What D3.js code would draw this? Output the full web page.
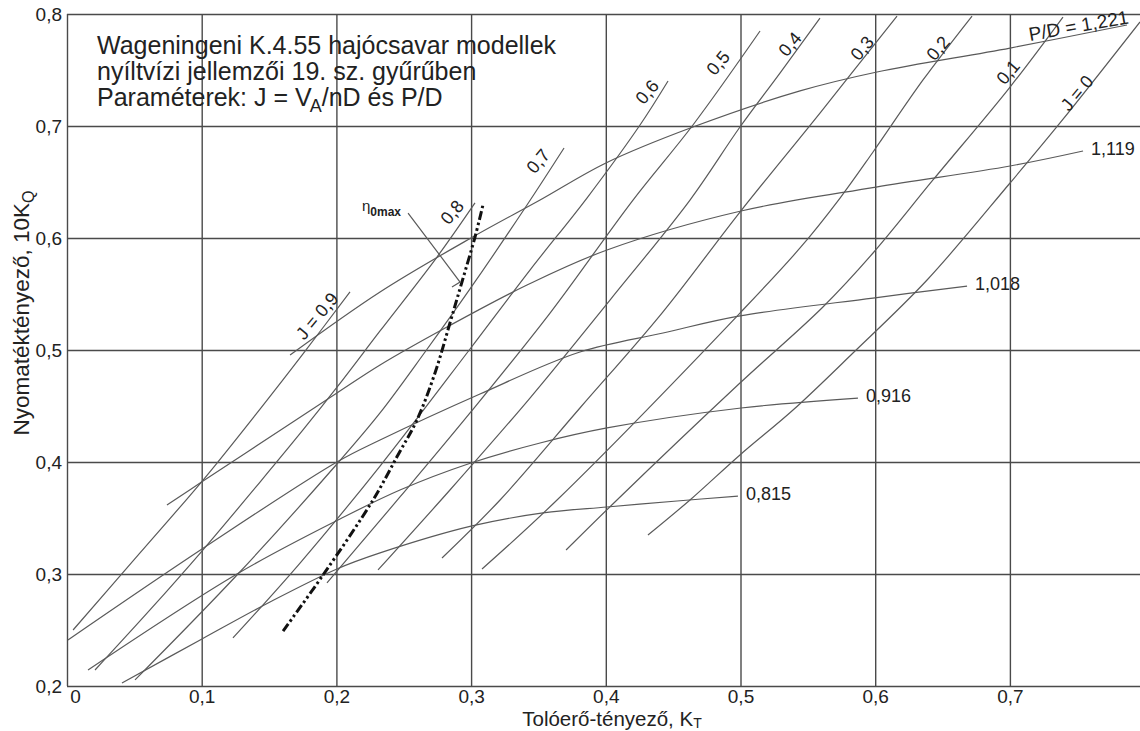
<!DOCTYPE html>
<html>
<head>
<meta charset="utf-8">
<script src="https://cdn.jsdelivr.net/npm/d3@7"></script>
<style>
  body { margin: 0; background: #fff; }
  text { font-family: "Liberation Sans", Arial, sans-serif; fill: #222; }
</style>
</head>
<body>
<svg id="chart" width="1140" height="731"></svg>
<script>
const xTicks = [0, 0.1, 0.2, 0.3, 0.4, 0.5, 0.6, 0.7];
const yTicks = [0.2, 0.3, 0.4, 0.5, 0.6, 0.7, 0.8];

// P/D curves: [KT, 10KQ]
const pd1221 = [[0.1656, 0.4955], [0.2324, 0.5518], [0.2999, 0.6], [0.3512, 0.6339], [0.4001, 0.667],
  [0.4647, 0.6991], [0.5442, 0.7313], [0.6013, 0.7482], [0.7001, 0.7696], [0.7869, 0.7902]];
const pd1119 = [[0.0742, 0.3616], [0.101, 0.383], [0.1507, 0.4223], [0.2004, 0.4616], [0.2324, 0.4866],
  [0.2821, 0.5205], [0.3415, 0.558], [0.4009, 0.5893], [0.5004, 0.6241], [0.6006, 0.6455],
  [0.7001, 0.6643], [0.7543, 0.6777]];
const pd1018 = [[0.0007, 0.2411], [0.1002, 0.3223], [0.2004, 0.4], [0.2324, 0.4196], [0.3066, 0.4607],
  [0.3808, 0.4982], [0.4425, 0.5152], [0.4996, 0.5304], [0.5984, 0.5464], [0.6682, 0.5571]];
const pd0916 = [[0.0156, 0.2143], [0.1262, 0.3], [0.2027, 0.3491], [0.2472, 0.375], [0.2999, 0.3991],
  [0.3512, 0.417], [0.4009, 0.4304], [0.5004, 0.4482], [0.5872, 0.4571]];
const pd0815 = [[0.0408, 0.2027], [0.1002, 0.242], [0.1507, 0.275], [0.2004, 0.3045], [0.2324, 0.3188],
  [0.3007, 0.3429], [0.3534, 0.3545], [0.4009, 0.3598], [0.4529, 0.3652], [0.4981, 0.3696]];
const pdLabels = ["P/D = 1,221", "1,119", "1,018", "0,916", "0,815"];

// J lines
const j09 = [[0.0045, 0.25], [0.0542, 0.3188], [0.101, 0.3839], [0.1433, 0.4473], [0.1745, 0.4955], [0.2101, 0.5518]];
const j08 = [[0.0208, 0.2143], [0.0616, 0.2679], [0.1002, 0.3205], [0.1433, 0.3821], [0.1752, 0.4286],
  [0.2012, 0.4679], [0.2324, 0.517], [0.2747, 0.583], [0.3029, 0.6313]];
const j07 = [[0.0505, 0.2054], [0.1262, 0.2991], [0.2004, 0.3982], [0.2324, 0.4438], [0.2658, 0.4982],
  [0.2992, 0.5545], [0.3415, 0.6295], [0.369, 0.6804]];
const j06 = [[0.1232, 0.2429], [0.173, 0.3098], [0.2324, 0.3964], [0.2992, 0.5009], [0.3437, 0.5714],
  [0.386, 0.6357], [0.4254, 0.7009], [0.4462, 0.7402]];
const j05 = [[0.193, 0.292], [0.2472, 0.3688], [0.2992, 0.4438], [0.3586, 0.533], [0.4202, 0.6339],
  [0.4647, 0.7009], [0.5145, 0.7848]];
const j04 = [[0.2309, 0.3036], [0.2843, 0.375], [0.3437, 0.4571], [0.4031, 0.5446], [0.4625, 0.6339],
  [0.4996, 0.6991], [0.5293, 0.7473], [0.559, 0.7964]];
const j03 = [[0.2784, 0.3143], [0.3215, 0.3661], [0.3808, 0.4482], [0.4417, 0.533], [0.4996, 0.6232],
  [0.559, 0.7116], [0.6162, 0.7982]];
const j02 = [[0.3081, 0.3045], [0.3638, 0.3661], [0.4996, 0.533], [0.5442, 0.5911], [0.5739, 0.6357],
  [0.5984, 0.6768], [0.6355, 0.7411], [0.6719, 0.7982]];
const j01 = [[0.3705, 0.3214], [0.4083, 0.3661], [0.4996, 0.4705], [0.5612, 0.5384], [0.5984, 0.5866],
  [0.6429, 0.6518], [0.7001, 0.7348], [0.7394, 0.7973]];
const j00 = [[0.4313, 0.3348], [0.4625, 0.3661], [0.4996, 0.4063], [0.539, 0.4464], [0.5835, 0.4973],
  [0.6385, 0.5625], [0.7001, 0.6491], [0.7372, 0.7027], [0.7966, 0.7929]];
const jLabels = ["J = 0,9", "0,8", "0,7", "0,6", "0,5", "0,4", "0,3", "0,2", "0,1", "J = 0"];
const jLabelAt = [[0.1856, 0.5304], [0.2858, 0.6232], [0.3497, 0.6687], [0.4306, 0.7304], [0.4833, 0.7563],
  [0.5367, 0.7732], [0.5902, 0.7696], [0.6466, 0.7696], [0.6986, 0.7482], [0.7498, 0.7295]];

// optimum efficiency line
const etaMax = [[0.1604, 0.2491], [0.1901, 0.2991], [0.2272, 0.3661], [0.2457, 0.4063], [0.2598, 0.4375],
  [0.2732, 0.4795], [0.2843, 0.5241], [0.2932, 0.5607], [0.3029, 0.6009], [0.3088, 0.6295]];
const etaLeader = [[0.2532, 0.6223], [0.2918, 0.5607], [0.2858, 0.5563]];

const x = d3.scaleLinear().domain([0, 0.8]).range([67, 1144.6]);
const y = d3.scaleLinear().domain([0.2, 0.8]).range([686, 14]);
const fmt = (d) => (d === 0 ? "0" : d3.format(".1f")(d).replace(".", ","));

const svg = d3.select("#chart");

svg.append("g")
  .attr("transform", "translate(0,686)")
  .call(d3.axisBottom(x).tickValues(xTicks).tickSize(-672).tickPadding(4).tickFormat(fmt))
  .call((g) => g.select(".domain").remove())
  .call((g) => g.selectAll("line").attr("stroke", "#4a4a4a").attr("stroke-width", 1.4))
  .call((g) => g.selectAll("text").attr("font-size", 19).attr("font-family", null).attr("fill", "#2a2a2a"))
  .call((g) => g.select(".tick text").attr("dx", 8));

svg.append("g")
  .attr("transform", "translate(67,0)")
  .call(d3.axisLeft(y).tickValues(yTicks).tickSize(-(1144.6 - 67)).tickPadding(5).tickFormat(fmt))
  .call((g) => g.select(".domain").remove())
  .call((g) => g.selectAll("line").attr("stroke", "#4a4a4a").attr("stroke-width", 1.4))
  .call((g) => g.selectAll("text").attr("font-size", 19).attr("font-family", null).attr("fill", "#2a2a2a"));

const line = d3.line()
  .x((d) => x(d[0]))
  .y((d) => y(d[1]))
  .curve(d3.curveCatmullRom.alpha(0.5));

const pdCurves = [pd1221, pd1119, pd1018, pd0916, pd0815];
const jCurves = [j09, j08, j07, j06, j05, j04, j03, j02, j01, j00];

svg.append("g")
  .selectAll("path")
  .data(pdCurves.concat(jCurves))
  .enter()
  .append("path")
  .attr("d", line)
  .attr("fill", "none")
  .attr("stroke", "#5a5a5a")
  .attr("stroke-width", 1.2);

svg.append("path")
  .attr("d", line(etaMax))
  .attr("fill", "none")
  .attr("stroke", "#111")
  .attr("stroke-width", 3)
  .attr("stroke-dasharray", "9 3 2.5 3 2.5 3");

svg.append("path")
  .attr("d", d3.line().x((d) => x(d[0])).y((d) => y(d[1]))(etaLeader))
  .attr("fill", "none")
  .attr("stroke", "#5a5a5a")
  .attr("stroke-width", 1.2);

// P/D labels at curve ends
svg.append("g")
  .selectAll("text")
  .data(pdCurves.slice(1))
  .enter()
  .append("text")
  .attr("x", (d) => x(d[d.length - 1][0]) + 8)
  .attr("y", (d) => y(d[d.length - 1][1]))
  .attr("dy", "0.2em")
  .attr("font-size", 18)
  .text((_, i) => pdLabels[i + 1]);

svg.append("text")
  .attr("transform", `translate(${x(0.715)},${y(0.776)}) rotate(-10)`)
  .attr("font-size", 19)
  .text(pdLabels[0]);

svg.append("g")
  .selectAll("text")
  .data(jLabelAt)
  .enter()
  .append("text")
  .attr("transform", (d) => `translate(${x(d[0])},${y(d[1])}) rotate(-50)`)
  .attr("text-anchor", "middle")
  .attr("dy", "0.35em")
  .attr("font-size", 18)
  .text((_, i) => jLabels[i]);

const eta = svg.append("text")
  .attr("x", x(0.219))
  .attr("y", y(0.6245))
  .attr("font-size", 15);
eta.append("tspan").text("η");
eta.append("tspan").attr("dy", 5).attr("font-size", 12).attr("font-weight", "bold").text("0max");

// title block
const title = svg.append("g").attr("font-size", 25);
title.append("text").attr("x", 97).attr("y", 54).text("Wageningeni K.4.55 hajócsavar modellek");
title.append("text").attr("x", 97).attr("y", 80).text("nyíltvízi jellemzői 19. sz. gyűrűben");
const t3 = title.append("text").attr("x", 97).attr("y", 106);
t3.append("tspan").text("Paraméterek: J = V");
t3.append("tspan").attr("dx", -2).attr("dy", 6).attr("font-size", 18).text("A");
t3.append("tspan").attr("dy", -6).text("/nD és P/D");

const xTitle = svg.append("text")
  .attr("x", 612)
  .attr("y", 726)
  .attr("text-anchor", "middle")
  .attr("font-size", 20.5);
xTitle.append("tspan").text("Tolóerő-tényező, K");
xTitle.append("tspan").attr("dy", 2).attr("font-size", 14).text("T");

const yTitle = svg.append("text")
  .attr("transform", "translate(29,313) rotate(-90)")
  .attr("text-anchor", "middle")
  .attr("font-size", 22.5);
yTitle.append("tspan").text("Nyomatéktényező, 10K");
yTitle.append("tspan").attr("dy", 5).attr("font-size", 16).text("Q");
</script>
</body>
</html>
